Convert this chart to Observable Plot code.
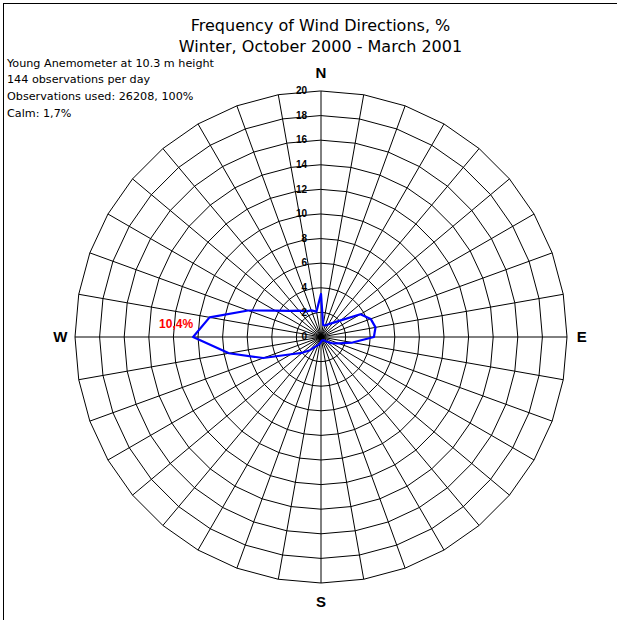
<!DOCTYPE html>
<html>
<head>
<meta charset="utf-8">
<script src="https://cdn.jsdelivr.net/npm/d3@7"></script>
<script src="https://cdn.jsdelivr.net/npm/@observablehq/plot@0.6"></script>
<style>
  html, body { margin: 0; padding: 0; background: #fff; }
  #wrap { position: relative; width: 617px; height: 620px; overflow: hidden; }
  #wrap svg { display: block; }
  #border { position: absolute; left: 3px; top: 3px; width: 700px; height: 700px;
            border-left: 1.5px solid #000; border-top: 1.5px solid #000; pointer-events: none; }
</style>
</head>
<body>
<div id="wrap"><div id="border"></div></div>
<script>
// Wind direction bearings (degrees clockwise from north) and frequency of each, %
const directions = [0, 10, 20, 30, 40, 50, 60, 70, 80, 90, 100, 110,
                    120, 130, 140, 150, 160, 170, 180, 190, 200, 210, 220, 230,
                    240, 250, 260, 270, 280, 290, 300, 310, 320, 330, 340, 350];
const frequency = [3.5, 1.0, 1.0, 1.2, 1.5, 2.1, 3.7, 4.3, 4.5, 4.3, 2.6, 1.5,
                   1.0, 0.6, 0.35, 0.3, 0.3, 0.3, 0.4, 0.55, 0.7, 0.9, 1.4, 2.0,
                   2.8, 5.0, 7.6, 10.4, 9.2, 6.3, 4.3, 3.3, 2.8, 2.4, 2.3, 2.1];

// Radial grid levels and their labels
const ringLevels = [2, 4, 6, 8, 10, 12, 14, 16, 18, 20];
const tickLabels = [0, 2, 4, 6, 8, 10, 12, 14, 16, 18, 20];

// Compass points
const compassNames = ["N", "E", "S", "W"];
const compassBearings = [0, 90, 180, 270];

// Header texts
const titleLines = ["Frequency of Wind Directions, %", "Winter, October 2000 - March 2001"];
const infoLines = ["Young Anemometer at 10.3 m height", "144 observations per day",
                   "Observations used: 26208, 100%", "Calm: 1,7%"];

// Layout
const W = 617, H = 620;
const cx = 320.5, cy = 336.5, unit = 12.3;   // centre of the rose, pixels per percent
const rMax = 20;
const labelRadius = 21.2;

const rad = b => b * Math.PI / 180;
const px = (r, b) => r * Math.sin(rad(b));
const py = (r, b) => r * Math.cos(rad(b));

const rose = directions.map((b, i) => ({b, v: frequency[i]}));
const rings = ringLevels.flatMap(level => directions.map(b => ({level, b})));
const compass = compassNames.map((name, i) => ({name, b: compassBearings[i]}));
const peak = rose.reduce((a, d) => (d.v > a.v ? d : a));

const sans = "'DejaVu Sans', Verdana, sans-serif";
const arial = "'Liberation Sans', Arial, sans-serif";

const compassStyle = {fontSize: 15, fontWeight: "bold", fontFamily: arial, fill: "#000", text: "name"};

const chart = Plot.plot({
  width: W,
  height: H,
  marginTop: 0, marginLeft: 0, marginRight: 0, marginBottom: 0,
  x: {domain: [-rMax, rMax], range: [cx - rMax * unit, cx + rMax * unit], axis: null},
  y: {domain: [-rMax, rMax], range: [cy + rMax * unit, cy - rMax * unit], axis: null},
  style: {background: "transparent", overflow: "visible"},
  marks: [
    // polygonal rings
    Plot.line(rings, {
      x: d => px(d.level, d.b), y: d => py(d.level, d.b), z: "level",
      curve: "linear-closed", stroke: "#000", strokeWidth: 1
    }),
    // spokes every 10 degrees
    Plot.link(directions, {
      x1: () => 0, y1: () => 0,
      x2: b => px(rMax, b), y2: b => py(rMax, b),
      stroke: "#000", strokeWidth: 1
    }),
    // frequency polygon
    Plot.line(rose, {
      x: d => px(d.v, d.b), y: d => py(d.v, d.b),
      curve: "linear-closed", stroke: "#0000ff", strokeWidth: 2.2
    }),
    // radial scale labels along the north axis
    Plot.text(tickLabels, {
      x: () => 0, y: d => d, text: d => String(d),
      textAnchor: "end", dx: -14, fontSize: 10, fontWeight: "bold",
      fontFamily: arial, fill: "#000"
    }),
    // maximum value label
    Plot.text([peak], {
      x: d => px(d.v, d.b), y: d => py(d.v, d.b),
      text: d => String(d.v).replace(".", ",") + "%",
      textAnchor: "end", dy: -13, fontSize: 12, fontWeight: "bold",
      fontFamily: arial, fill: "#ff0000"
    }),
    // compass letters: N above, S below
    Plot.text(compass.filter(d => d.b === 0), {
      x: d => px(labelRadius, d.b), y: d => py(labelRadius, d.b), dy: -3, ...compassStyle
    }),
    Plot.text(compass.filter(d => d.b === 180), {
      x: d => px(labelRadius, d.b), y: d => py(labelRadius, d.b), dy: 4, ...compassStyle
    }),
    // E and W at the sides
    Plot.text(compass.filter(d => d.b % 180 !== 0), {
      x: d => px(labelRadius, d.b), y: d => py(labelRadius, d.b), ...compassStyle
    })
  ]
});

// header texts, placed in pixel space on top of the plot
const svg = d3.select(chart);
const header = svg.append("g").attr("fill", "#000").attr("font-family", sans);
titleLines.forEach((t, i) => {
  header.append("text")
    .attr("x", cx).attr("y", 25 + i * 21)
    .attr("text-anchor", "middle").attr("dominant-baseline", "central")
    .attr("font-size", 16).text(t);
});
infoLines.forEach((t, i) => {
  header.append("text")
    .attr("x", 7).attr("y", 63 + i * 16.7)
    .attr("text-anchor", "start").attr("dominant-baseline", "central")
    .attr("font-size", 11.2).text(t);
});

document.getElementById("wrap").prepend(chart);
</script>
</body>
</html>
